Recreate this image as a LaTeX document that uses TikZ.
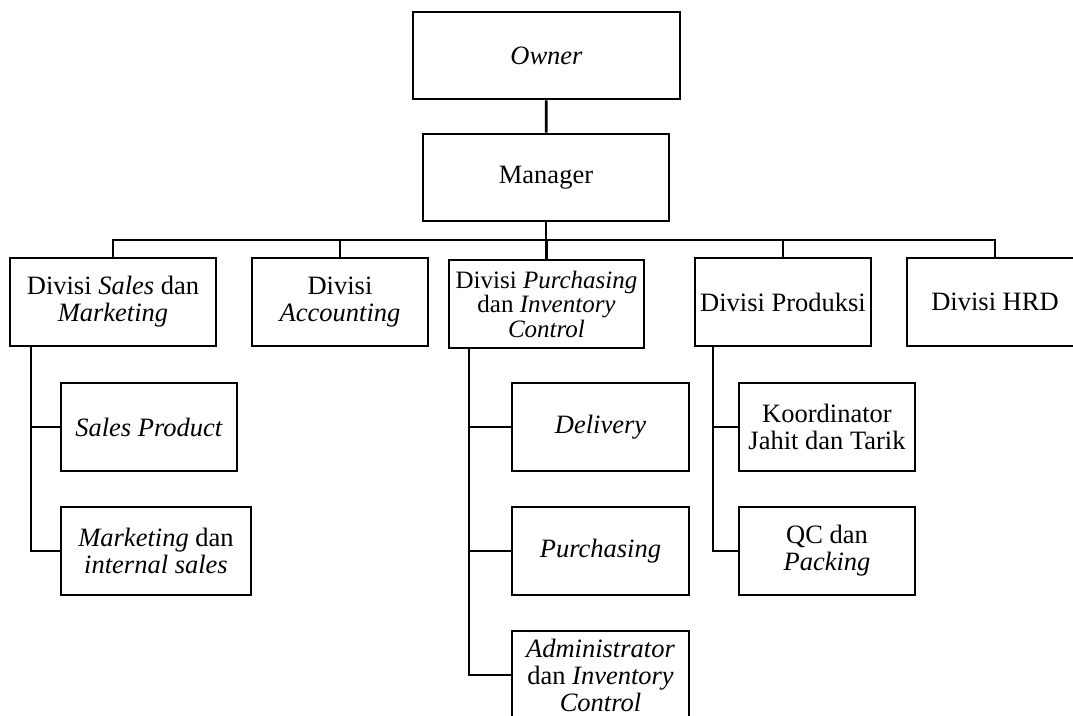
\documentclass[tikz,border=0pt]{standalone}
\usepackage{fontspec}
\setmainfont{Liberation Serif}
\begin{document}
\begin{tikzpicture}[x=1pt,y=-1pt,
  kotak/.style={draw,line width=2.8pt,align=center,inner sep=0pt,
    minimum height=88pt,font=\fontsize{26.5}{27}\selectfont},
  garis/.style={line width=2.8pt}]

\path[use as bounding box,clip] (0,0) rectangle (1073,715);

% Pimpinan
\node[kotak,minimum width=267pt,minimum height=87pt] (owner) at (546.5,55.5) {\textit{Owner}};
\node[kotak,minimum width=246pt,minimum height=87pt] (manager) at (546,177.5) {Manager};

% Divisi
\node[kotak,minimum width=206pt] (sales) at (113,302) {Divisi \textit{Sales} dan\\\textit{Marketing}};
\node[kotak,minimum width=176pt] (acc) at (340,302) {Divisi\\\textit{Accounting}};
\node[kotak,minimum width=195pt,font=\fontsize{25}{24.5}\selectfont] (purch) at (546.5,304)
  {Divisi \textit{Purchasing}\\dan \textit{Inventory}\\\textit{Control}};
\node[kotak,minimum width=176pt] (prod) at (783,302) {Divisi Produksi};
\node[kotak,minimum width=176pt] (hrd) at (995,302) {Divisi HRD};

% Bagian
\node[kotak,minimum width=176pt] (sprod) at (149,427) {\textit{Sales Product}};
\node[kotak,minimum width=190pt] (mkt) at (156,551) {\textit{Marketing} dan\\\textit{internal sales}};

\node[kotak,minimum width=177pt] (deliv) at (600.5,427) {\textit{Delivery}};
\node[kotak,minimum width=177pt] (pur) at (600.5,551) {\textit{Purchasing}};
\node[kotak,minimum width=177pt] (admin) at (600.5,675) {\textit{Administrator}\\dan \textit{Inventory}\\\textit{Control}};

\node[kotak,minimum width=176pt] (koor) at (827,427) {Koordinator\\Jahit dan Tarik};
\node[kotak,minimum width=176pt] (qc) at (827,551) {QC dan\\\textit{Packing}};

% Garis
\coordinate (bus) at (546,240);
\draw[garis] (owner) -- (manager);
\draw[garis] (manager.south) -- (bus);
\draw[garis] (sales.north) |- (bus) -| (hrd.north);
\draw[garis] (acc.north) -- (acc.north |- bus);
\draw[garis] (purch.north) -- (purch.north |- bus);
\draw[garis] (prod.north) -- (prod.north |- bus);

\draw[garis] ([xshift=-82pt]sales.south) |- (sprod.west);
\draw[garis] ([xshift=-82pt]sales.south) |- (mkt.west);

\draw[garis] ([xshift=-77.5pt]purch.south) |- (deliv.west);
\draw[garis] ([xshift=-77.5pt]purch.south) |- (pur.west);
\draw[garis] ([xshift=-77.5pt]purch.south) |- (admin.west);

\draw[garis] ([xshift=-70pt]prod.south) |- (koor.west);
\draw[garis] ([xshift=-70pt]prod.south) |- (qc.west);

\end{tikzpicture}
\end{document}
